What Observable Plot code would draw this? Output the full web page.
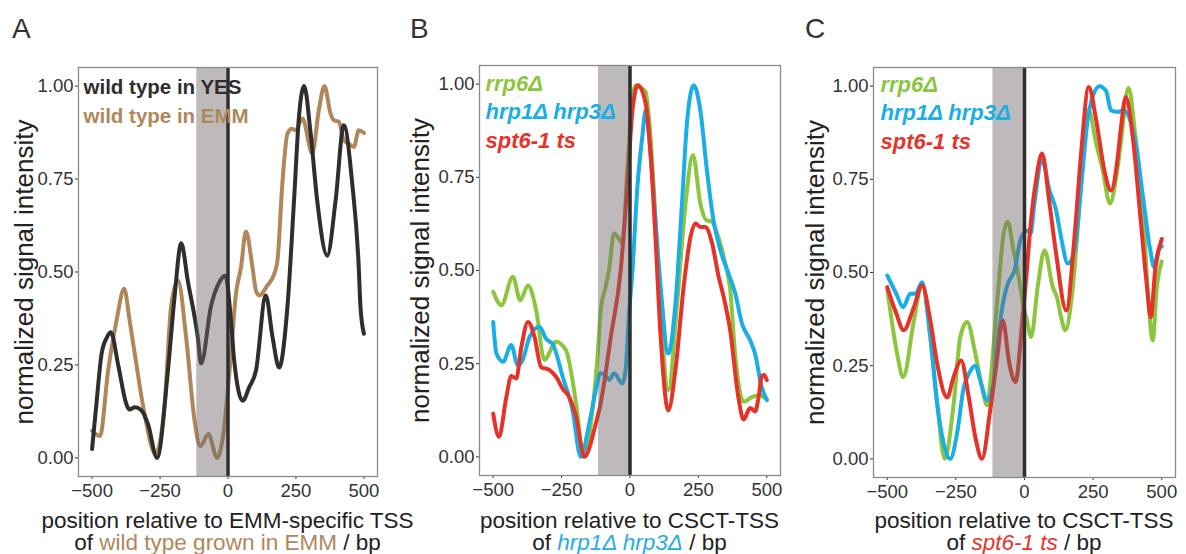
<!DOCTYPE html>
<html><head><meta charset="utf-8">
<script src="https://cdn.jsdelivr.net/npm/d3@7"></script>
<script src="https://cdn.jsdelivr.net/npm/@observablehq/plot@0.6"></script>
<style>
body{margin:0;background:#fff;}
#root{position:relative;width:1186px;height:554px;overflow:hidden;font-family:"Liberation Sans",Arial,sans-serif;color:#222;background:#fff;}
.letter{position:absolute;top:14.6px;font-size:28px;line-height:28px;color:#333;}
.xlab{position:absolute;top:510px;width:440px;font-size:22.5px;line-height:21.5px;text-align:center;white-space:nowrap;color:#222;}
</style></head><body><div id="root"></div>
<script>
// ---- data ----
const xTicks = [-500, -250, 0, 250, 500];
const yTicks = [0, 0.25, 0.5, 0.75, 1];
const bandRange = [-115, 0];
const yLabel = "normalized signal intensity";
const panelLetters = ["A", "B", "C"];

const aYesX = [-500,-484,-465,-445,-431,-404,-374,-363,-343,-319,-294,-261,-221,-197,-172,-148,-111,-99,-62,-35,-10,11,23,54,78,103,139,164,188,219,243,261,280,304,328,365,396,426,457,481,487,500];
const aYesY = [0.024,0.146,0.28,0.325,0.338,0.25,0.145,0.13,0.136,0.128,0.09,0.0,0.235,0.43,0.577,0.477,0.324,0.254,0.41,0.468,0.49,0.37,0.26,0.154,0.19,0.235,0.437,0.324,0.243,0.41,0.693,0.917,1.0,0.873,0.693,0.544,0.693,0.895,0.738,0.513,0.41,0.334];
const aEmmX = [-500,-471,-441,-410,-382,-362,-343,-307,-267,-233,-209,-184,-154,-123,-102,-72,-40,-19,11,29,48,66,90,103,115,145,170,182,200,219,235,249,274,310,334,355,377,389,408,426,444,463,481,500];
const aEmmY = [0.073,0.059,0.235,0.37,0.455,0.37,0.28,0.118,0.01,0.145,0.41,0.477,0.324,0.1,0.032,0.064,0.0,0.055,0.28,0.44,0.513,0.609,0.513,0.45,0.437,0.464,0.495,0.531,0.738,0.873,0.885,0.881,0.913,0.819,0.935,1.0,0.927,0.908,0.904,0.854,0.845,0.836,0.881,0.874];

const bRrpX = [-500,-470,-428,-401,-373,-343,-313,-270,-234,-197,-170,-137,-118,-107,-89,-77,-58,-45,-28,-10,9,21,40,57,75,93,112,140,172,203,230,257,279,299,318,348,366,384,415,445,470,500];
const bRrpY = [0.443,0.407,0.483,0.42,0.46,0.394,0.26,0.309,0.286,0.143,0.0,0.125,0.277,0.394,0.456,0.5,0.6,0.59,0.573,0.769,0.966,0.997,0.99,0.98,0.859,0.64,0.4,0.179,0.41,0.68,0.81,0.68,0.635,0.631,0.6,0.519,0.45,0.277,0.148,0.16,0.165,0.155];
const bHrpX = [-500,-488,-464,-434,-410,-392,-367,-331,-306,-282,-246,-210,-180,-149,-125,-109,-90,-76,-58,-28,-16,-4,9,27,45,57,75,93,112,140,166,190,209,233,257,281,305,330,360,384,409,439,457,481,500];
const bHrpY = [0.362,0.277,0.255,0.3,0.246,0.26,0.322,0.349,0.316,0.302,0.215,0.125,0.0,0.089,0.179,0.224,0.22,0.206,0.224,0.197,0.233,0.38,0.5,0.725,0.859,0.93,0.814,0.635,0.456,0.277,0.41,0.68,0.903,0.997,0.93,0.769,0.635,0.555,0.492,0.44,0.358,0.313,0.277,0.188,0.152];
const bSptX = [-500,-479,-452,-434,-416,-397,-373,-349,-325,-294,-270,-246,-222,-197,-167,-125,-107,-70,-34,-10,9,29,57,75,93,112,140,166,196,221,239,257,275,300,324,342,366,396,415,439,457,470,481,490,500];
const bSptY = [0.116,0.054,0.16,0.217,0.21,0.295,0.362,0.322,0.241,0.233,0.215,0.183,0.16,0.107,0.0,0.089,0.144,0.322,0.5,0.725,0.93,0.997,0.948,0.814,0.59,0.322,0.125,0.233,0.456,0.59,0.626,0.617,0.617,0.573,0.483,0.43,0.34,0.16,0.1,0.131,0.122,0.16,0.215,0.22,0.206];

const cRrpX = [-500,-464,-442,-403,-373,-343,-318,-291,-258,-234,-209,-179,-155,-136,-125,-110,-95,-76,-61,-40,-30,-15,-6,9,24,48,73,103,118,136,149,176,206,234,261,285,311,333,348,379,403,433,452,467,482,500];
const cRrpY = [0.457,0.282,0.219,0.37,0.47,0.327,0.148,0.0,0.148,0.327,0.367,0.282,0.193,0.143,0.2,0.33,0.46,0.604,0.636,0.559,0.524,0.46,0.416,0.371,0.327,0.461,0.56,0.461,0.434,0.371,0.345,0.461,0.73,0.935,0.846,0.774,0.685,0.75,0.83,0.996,0.872,0.65,0.416,0.318,0.461,0.53];
const cHrpX = [-500,-467,-442,-416,-397,-373,-343,-318,-294,-270,-246,-221,-203,-179,-161,-136,-113,-95,-79,-61,-36,-12,12,22,36,64,91,115,133,158,182,206,230,248,273,297,315,339,361,385,409,433,458,472,488,500];
const cHrpY = [0.492,0.443,0.407,0.443,0.443,0.474,0.327,0.148,0.04,0.0,0.067,0.193,0.228,0.25,0.21,0.157,0.205,0.33,0.416,0.47,0.506,0.595,0.613,0.604,0.685,0.801,0.72,0.667,0.595,0.524,0.56,0.73,0.909,0.971,1.0,0.987,0.935,0.931,0.935,0.908,0.828,0.694,0.56,0.515,0.56,0.57];
const cSptX = [-500,-467,-440,-403,-373,-343,-318,-282,-258,-231,-203,-179,-155,-125,-103,-79,-55,-33,-8,8,18,42,64,91,115,152,182,206,234,261,291,315,338,350,369,397,421,445,460,476,500];
const cSptY = [0.461,0.39,0.345,0.407,0.465,0.371,0.255,0.165,0.22,0.264,0.165,0.058,0.0,0.13,0.25,0.371,0.255,0.206,0.37,0.5,0.595,0.748,0.819,0.685,0.551,0.398,0.595,0.819,0.998,0.909,0.774,0.72,0.8,0.88,0.971,0.846,0.658,0.47,0.38,0.506,0.59];

const legendA = ["wild type in YES", "wild type in EMM"];
const legendBC = ["rrp6\u0394", "hrp1\u0394 hrp3\u0394", "spt6-1 ts"];
const xLabelLine1 = ["position relative to EMM-specific TSS", "position relative to CSCT-TSS", "position relative to CSCT-TSS"];
const xLabelStrain = ["wild type grown in EMM", "hrp1\u0394 hrp3\u0394", "spt6-1 ts"];

// ---- styles ----
const C = {black:"#2e2e2e", brown:"#b0875a", green:"#8cc63f", blue:"#1aaee6", red:"#e63329"};

const root = document.getElementById("root");
const toRows = (xs, ys) => xs.map((x, i) => ({x, y: ys[i]}));

function makePanel(cfg) {
  const marks = [];
  cfg.series.forEach(s => marks.push(Plot.line(toRows(s.x, s.y), {x:"x", y:"y", stroke:s.color, strokeWidth:4, curve:"monotone-x", strokeLinejoin:"round", strokeLinecap:"round"})));
  marks.push(Plot.rect([{x1: bandRange[0], x2: bandRange[1]}], {x1:"x1", x2:"x2", fill:"#6e676b", fillOpacity:0.45}));
  marks.push(Plot.ruleX([0], {stroke:"#2e2e2e", strokeWidth:3.5}));
  marks.push(Plot.frame({stroke:"#8a8a8a", strokeWidth:1.3}));
  cfg.legend.forEach((t, i) => marks.push(Plot.text([t], {
    text: d => d, frameAnchor:"top-left", dx: cfg.legDx, dy: cfg.legDy + i * cfg.legStep,
    lineAnchor:"bottom", textAnchor:"start", fill: cfg.legColors[i], fontWeight:"bold",
    fontStyle: cfg.italic ? "italic" : "normal", fontSize: cfg.legSize
  })));
  marks.push(Plot.text([yLabel], {text: d => d, frameAnchor:"left", dx: cfg.ylabDx, rotate:-90, lineAnchor:"bottom", textAnchor:"middle", fontSize:26, fill:"#222"}));
  const svg = Plot.plot({
    width: cfg.width, height: 510,
    marginLeft: cfg.ml, marginRight: cfg.mr, marginTop: cfg.mt, marginBottom: cfg.mb,
    x: {domain:[-550, 550], ticks: xTicks, tickFormat: d3.format("d"), tickSize:3, tickPadding:4, label:null},
    y: {domain:[-0.05, 1.05], ticks: yTicks, tickFormat: d3.format(".2f"), tickSize:3, tickPadding:2, label:null},
    style: {fontFamily:"Liberation Sans, Arial, sans-serif", fontSize:"18.5px", color:"#333", background:"transparent", overflow:"visible"},
    marks
  });
  svg.style.position = "absolute";
  svg.style.left = cfg.left + "px";
  svg.style.top = "0px";
  svg.style.maxWidth = "none";
  root.appendChild(svg);
}

makePanel({left:0, width:398, ml:78, mr:21, mt:67, mb:34, ylabDx:-46,
  series:[{x:aEmmX, y:aEmmY, color:C.brown}, {x:aYesX, y:aYesY, color:C.black}],
  legend: legendA, legColors:[C.black, C.brown], italic:false, legSize:20.5, legDx:5, legDy:26, legStep:29});
makePanel({left:400, width:394, ml:79, mr:14, mt:65, mb:35, ylabDx:-51,
  series:[{x:bRrpX, y:bRrpY, color:C.green}, {x:bHrpX, y:bHrpY, color:C.blue}, {x:bSptX, y:bSptY, color:C.red}],
  legend: legendBC, legColors:[C.green, C.blue, C.red], italic:true, legSize:22, legDx:6, legDy:25, legStep:28.5});
makePanel({left:795, width:391, ml:78, mr:11, mt:67, mb:33, ylabDx:-50,
  series:[{x:cRrpX, y:cRrpY, color:C.green}, {x:cHrpX, y:cHrpY, color:C.blue}, {x:cSptX, y:cSptY, color:C.red}],
  legend: legendBC, legColors:[C.green, C.blue, C.red], italic:true, legSize:22, legDx:7, legDy:24, legStep:28.5});

// panel letters
const letterLeft = [12, 410, 805];
panelLetters.forEach((l, i) => {
  const d = document.createElement("div");
  d.className = "letter"; d.style.left = letterLeft[i] + "px"; d.textContent = l;
  root.appendChild(d);
});
// x labels
const xlabCenter = [227.5, 629.5, 1024];
const strainStyle = [`color:${C.brown}`, `color:#29abe2;font-style:italic`, `color:${C.red};font-style:italic`];
xLabelLine1.forEach((t, i) => {
  const d = document.createElement("div");
  d.className = "xlab"; d.style.left = (xlabCenter[i] - 220) + "px";
  const l1 = document.createElement("div"); l1.textContent = t;
  const l2 = document.createElement("div");
  l2.append("of ");
  const sp = document.createElement("span"); sp.setAttribute("style", strainStyle[i]); sp.textContent = xLabelStrain[i];
  l2.append(sp); l2.append(" / bp");
  d.append(l1, l2);
  root.appendChild(d);
});
</script></body></html>
